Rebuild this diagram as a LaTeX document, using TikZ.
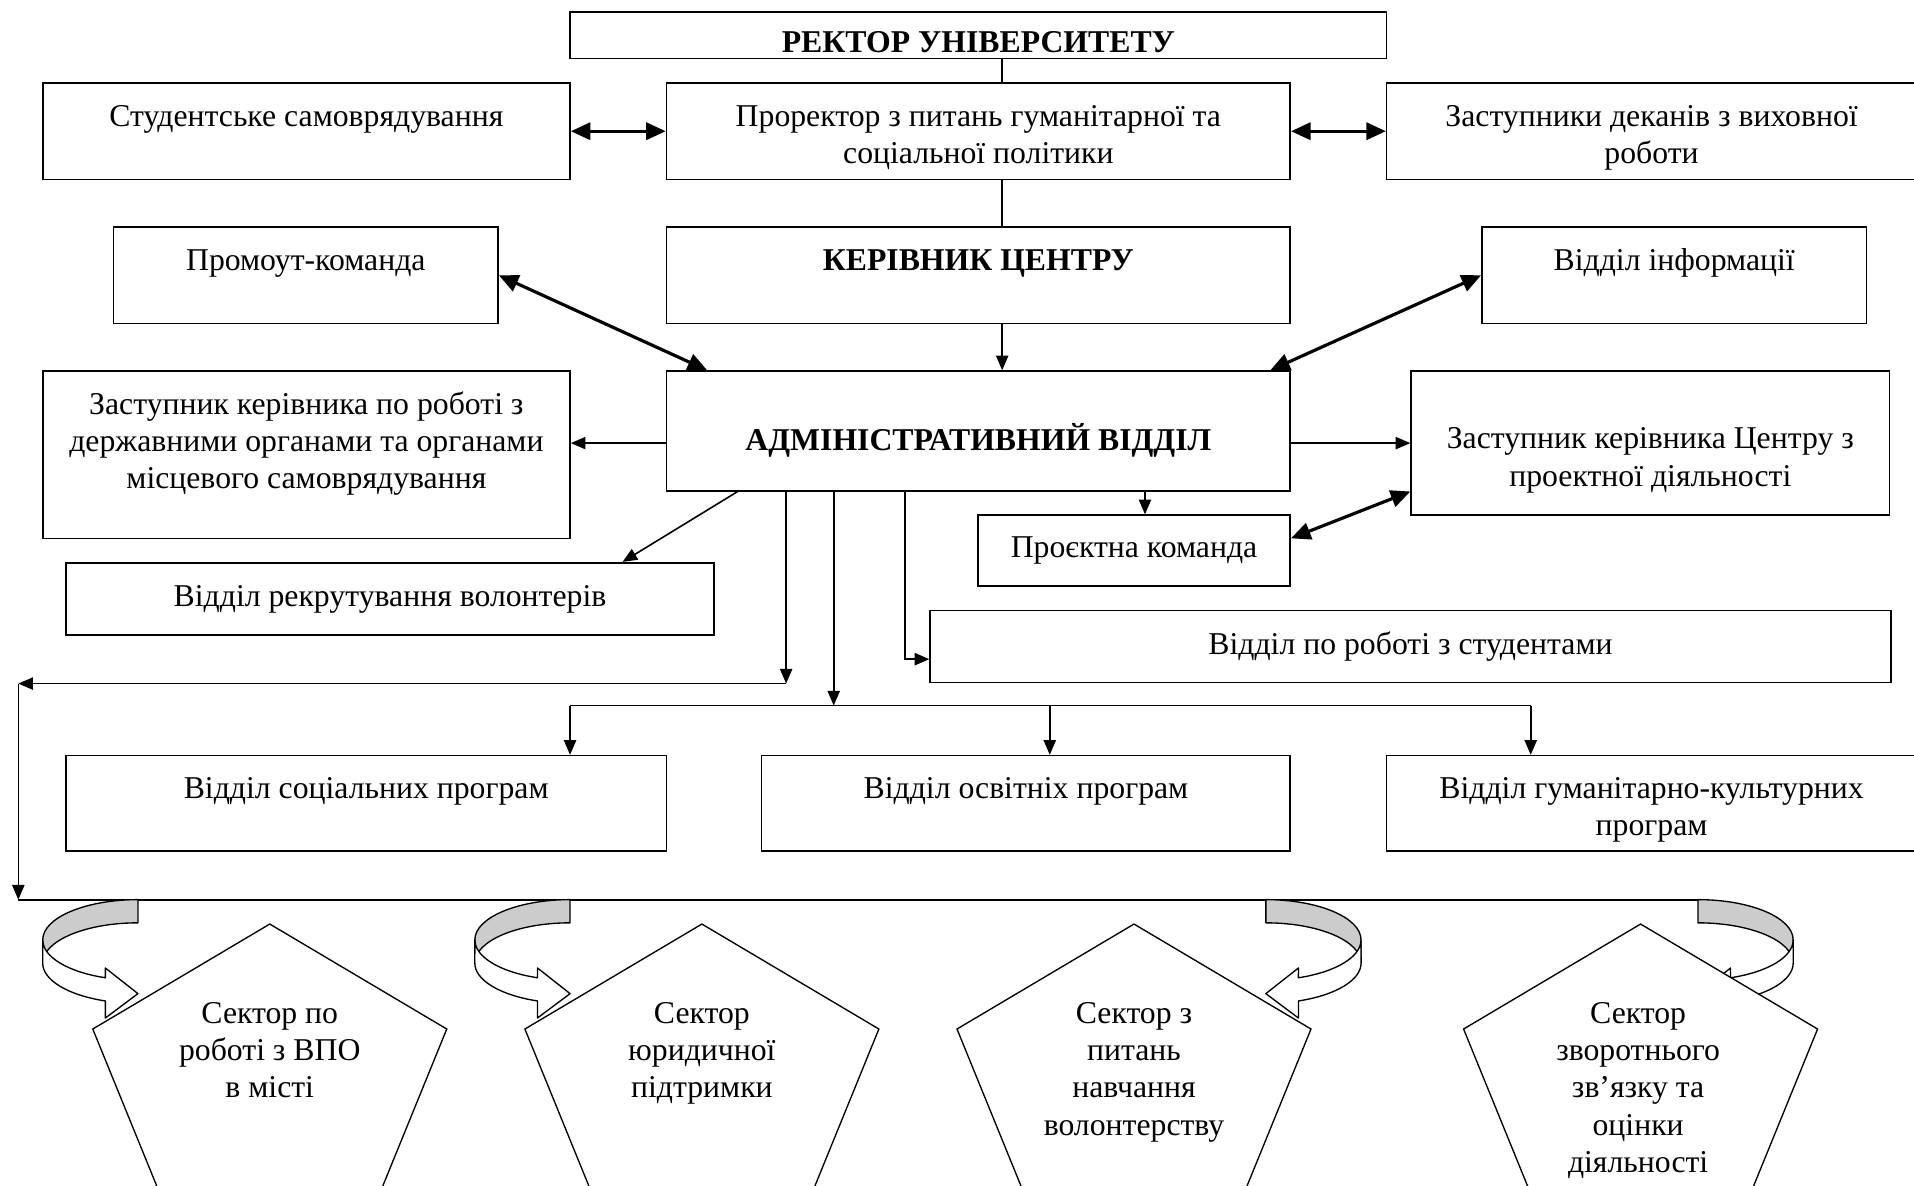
\documentclass[tikz,border=0pt]{standalone}
\usepackage{fontspec}
\setmainfont{Liberation Serif}
\usetikzlibrary{arrows.meta}
\newcommand{\bigtext}{\fontsize{26}{30.5}\selectfont}
\tikzset{
    box/.style={draw, line width=1.3pt, inner sep=0pt},
    txt/.style={anchor=north, align=center, inner sep=0pt, font=\bigtext, execute at begin node=\strut},
    arr/.style={line width=1.3pt, -{Triangle[width=10pt,length=12pt]}},
    darr/.style={line width=2.6pt, {Triangle[width=14pt,length=16pt]}-{Triangle[width=14pt,length=16pt]}},
    pent/.style={draw, fill=white, line width=1.1pt},
    band/.style={draw, line width=1.1pt, line join=round},
}

\begin{document}
\begin{tikzpicture}[x=1pt, y=-1pt]
\useasboundingbox (0,0) rectangle (1568,971);
\clip (0,0) rectangle (1568,971);

% boxes
\node[box, minimum width=669pt, minimum height=38pt, label={[txt,yshift=-12pt]north:{\bfseries РЕКТОР УНІВЕРСИТЕТУ}}] (rector) at (801.5,29) {};
\node[box, minimum width=432pt, minimum height=79pt, label={[txt,yshift=-15pt]north:{Студентське самоврядування}}] (stud) at (251,107.5) {};
\node[box, minimum width=511pt, minimum height=79pt, label={[txt,yshift=-19pt]north:{Проректор з питань гуманітарної та\\соціальної політики}}] (prorector) at (801.5,107.5) {};
\node[box, minimum width=434pt, minimum height=79pt, label={[txt,yshift=-19pt]north:{Заступники деканів з виховної\\роботи}}] (deans) at (1353,107.5) {};
\node[box, minimum width=315pt, minimum height=79pt, label={[txt,yshift=-15pt]north:{Промоут-команда}}] (promo) at (250.5,225.5) {};
\node[box, minimum width=511pt, minimum height=79pt, label={[txt,yshift=-15pt]north:{\bfseries КЕРІВНИК ЦЕНТРУ}}] (kerivnyk) at (801.5,225.5) {};
\node[box, minimum width=315pt, minimum height=79pt, label={[txt,yshift=-15pt]north:{Відділ інформації}}] (info) at (1371.5,225.5) {};
\node[box, minimum width=511pt, minimum height=98pt, label={[txt,yshift=-43.5pt]north:{\bfseries АДМІНІСТРАТИВНИЙ ВІДДІЛ}}] (admin) at (801.5,353) {};
\node[box, minimum width=432pt, minimum height=137pt, label={[txt,yshift=-17pt]north:{Заступник керівника по роботі з\\державними органами та органами\\місцевого самоврядування}}] (dgov) at (251,372.5) {};
\node[box, minimum width=392pt, minimum height=118pt, label={[txt,yshift=-47pt]north:{Заступник керівника Центру з\\проектної діяльності}}] (dproj) at (1352,363) {};
\node[box, minimum width=256pt, minimum height=58pt, label={[txt,yshift=-14pt]north:{Проєктна команда}}] (projteam) at (929,451) {};
\node[box, minimum width=531pt, minimum height=59pt, label={[txt,yshift=-15pt]north:{Відділ рекрутування волонтерів}}] (recruit) at (319.5,490.5) {};
\node[box, minimum width=787pt, minimum height=59pt, label={[txt,yshift=-15pt]north:{Відділ по роботі з студентами}}] (students) at (1155.5,529.5) {};
\node[box, minimum width=492pt, minimum height=78pt, label={[txt,yshift=-14pt]north:{Відділ соціальних програм}}] (social) at (300,658) {};
\node[box, minimum width=433pt, minimum height=78pt, label={[txt,yshift=-14pt]north:{Відділ освітніх програм}}] (edu) at (840.5,658) {};
\node[box, minimum width=434pt, minimum height=78pt, label={[txt,yshift=-18pt]north:{Відділ гуманітарно-культурних\\програм}}] (hum) at (1353,658) {};

% vertical chain
\draw[line width=1.3pt] ([xshift=19.5pt]rector.south) -- ([xshift=19.5pt]prorector.north);
\draw[line width=1.3pt] ([xshift=19.5pt]prorector.south) -- ([xshift=19.5pt]kerivnyk.north);
\draw[arr] ([xshift=19.5pt]kerivnyk.south) -- ([xshift=19.5pt]admin.north);

% double arrows
\draw[darr] (stud) -- (prorector);
\draw[darr] (prorector) -- (deans);
\draw[darr] (promo.east) -- ([xshift=34pt]admin.north west);
\draw[darr] (info.west) -- ([xshift=-17pt]admin.north east);
\draw[darr] ([yshift=10pt]projteam.east) -- ([yshift=20pt]dproj.south west);

% from admin
\draw[arr] (admin.west |- dproj.west) -- (dgov.east |- dproj.west);
\draw[arr] (admin.east |- dproj.west) -- (dproj.west);
\coordinate (pt) at ([xshift=9pt]projteam.north);
\draw[arr] (admin.south -| pt) -- (pt);
\draw[arr] ([xshift=59pt]admin.south west) -- ([xshift=190.5pt]recruit.north);
\draw[arr] ([xshift=196pt]admin.south west) |- ([yshift=-10.5pt]students.west);

\coordinate (j1) at (644,560);
\coordinate (c1) at (15,560);
\coordinate (c2) at (15,737);
\coordinate (c3) at (1391,737);
\draw[arr] (admin.south -| j1) -- (j1);
\draw[arr] (j1) -- (c1);
\draw[arr] (c1) -- (c2);
\draw[line width=1.8pt] (c2) -- (c3);

\coordinate (j2) at (683,578);
\coordinate (s1) at ([xshift=167pt]social.north);
\coordinate (s2) at ([xshift=19.5pt]edu.north);
\coordinate (s3) at ([xshift=-99pt]hum.north);
\draw[arr] (admin.south -| j2) -- (j2);
\draw[line width=1.3pt] (s1 |- j2) -- (s3 |- j2);
\foreach \s in {s1,s2,s3}
    \draw[arr] (\s |- j2) -- (\s);

% curved arrows
\foreach \fx/\dir in {113/1, 467/1, 1037/-1, 1391/-1}{
\begin{scope}[shift={(\fx,0)}, xscale=\dir]
\filldraw[band, fill=black!20] (0,737) arc[start angle=270, end angle=180, x radius=78, y radius=33]
    -- (-78,789) arc[start angle=180, end angle=270, x radius=78, y radius=33] -- cycle;
\filldraw[band, fill=white] (-78,770) arc[start angle=180, end angle=110, x radius=78, y radius=33]
    -- (-26.7,793) -- (0,814) -- (-26.7,834) -- (-26.7,820)
    arc[start angle=110, end angle=180, x radius=78, y radius=33] -- cycle;
\end{scope}
}

% sectors
\foreach \cx in {221,575,929,1344}
    \filldraw[pent] (\cx,757) -- (\cx+145,843) -- (\cx+81,1000) -- (\cx-81,1000) -- (\cx-145,843) -- cycle;

\node[txt] (sec1) at (221,821) {Сектор по\\роботі з ВПО\\в місті};
\node[txt] (sec2) at (575,821) {Сектор\\юридичної\\підтримки};
\node[txt] (sec3) at (929,821) {Сектор з\\питань\\навчання\\волонтерству};
\node[txt] (sec4) at (1342,821) {Сектор\\зворотнього\\зв’язку та\\оцінки\\діяльності};
\end{tikzpicture}
\end{document}
